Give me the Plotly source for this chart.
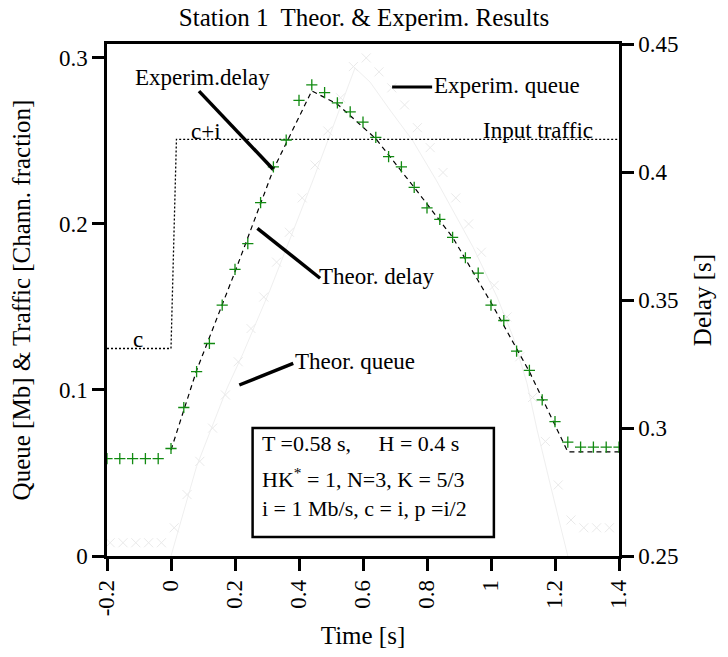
import plotly.graph_objects as go

# ---- data -----------------------------------------------------------------
# experimental delay samples (right axis, seconds)
exp_delay_t = [-0.20, -0.16, -0.12, -0.08, -0.04, 0.00, 0.04, 0.08, 0.12, 0.16,
               0.20, 0.24, 0.28, 0.32, 0.36, 0.40, 0.44, 0.48, 0.52, 0.56,
               0.60, 0.64, 0.68, 0.72, 0.76, 0.80, 0.84, 0.88, 0.92, 0.96,
               1.00, 1.04, 1.08, 1.12, 1.16, 1.20, 1.24, 1.28, 1.32, 1.36, 1.40]
exp_delay = [0.288, 0.288, 0.288, 0.288, 0.288, 0.292, 0.308, 0.322, 0.333, 0.348,
             0.362, 0.372, 0.388, 0.402, 0.4125, 0.428, 0.434, 0.431, 0.427, 0.4235,
             0.4195, 0.4135, 0.406, 0.402, 0.394, 0.386, 0.3815, 0.3745, 0.3665, 0.3605,
             0.348, 0.342, 0.330, 0.3225, 0.311, 0.3025, 0.2945, 0.2925, 0.2925, 0.2925, 0.2925]

# theoretical delay (right axis, seconds)
theo_delay_t = [0.00, 0.08, 0.20, 0.32, 0.44, 0.52, 0.64, 0.76, 0.88, 1.00, 1.12, 1.24, 1.40]
theo_delay = [0.2914, 0.3225, 0.361, 0.401, 0.4317, 0.4265, 0.413, 0.394, 0.3745, 0.349,
              0.322, 0.2907, 0.2907]

# experimental queue samples (left axis, Mb)
exp_queue_t = [-0.19, -0.15, -0.11, -0.07, -0.03, 0.01, 0.05, 0.09, 0.13, 0.17,
               0.21, 0.25, 0.29, 0.33, 0.37, 0.41, 0.45, 0.49, 0.53, 0.57,
               0.61, 0.65, 0.69, 0.73, 0.77, 0.81, 0.85, 0.89, 0.93, 0.97,
               1.01, 1.05, 1.09, 1.13, 1.17, 1.21, 1.25, 1.29, 1.33, 1.37]
exp_queue = [0.008, 0.008, 0.008, 0.008, 0.008, 0.017, 0.037, 0.057, 0.077, 0.097,
             0.117, 0.137, 0.156, 0.177, 0.195, 0.2157, 0.2355, 0.256, 0.276, 0.2948,
             0.300, 0.2916, 0.282, 0.2717, 0.258, 0.246, 0.231, 0.2157, 0.200, 0.183,
             0.163, 0.144, 0.120, 0.0955, 0.069, 0.0428, 0.0217, 0.017, 0.017, 0.017]

# theoretical queue (left axis, Mb)
theo_queue_t = [0.00, 0.08, 0.175, 0.225, 0.309, 0.381, 0.444, 0.575, 0.622, 0.684,
                0.756, 0.83, 0.944, 1.019, 1.069, 1.1125, 1.144, 1.184, 1.24]
theo_queue = [0.0, 0.054, 0.101, 0.122, 0.160, 0.196, 0.2265, 0.294, 0.2855, 0.2687,
              0.250, 0.226, 0.186, 0.156, 0.132, 0.104, 0.076, 0.044, 0.0]

# input traffic (left axis, channel fraction): c, then c+i
traffic_t = [-0.20, 0.00, 0.017, 1.40]
traffic = [0.125, 0.125, 0.251, 0.251]

x_ticks = [-0.2, 0.0, 0.2, 0.4, 0.6, 0.8, 1.0, 1.2, 1.4]
x_ticktext = ["-0.2", "0", "0.2", "0.4", "0.6", "0.8", "1", "1.2", "1.4"]
yl_ticks = [0.0, 0.1, 0.2, 0.3]
yl_ticktext = ["0", "0.1", "0.2", "0.3"]
yr_ticks = [0.25, 0.30, 0.35, 0.40, 0.45]
yr_ticktext = ["0.25", "0.3", "0.35", "0.4", "0.45"]

# ---- style ----------------------------------------------------------------
FONT = "Liberation Serif, Times New Roman, serif"
FS_TICK = 23
FS_LABEL = 23
FS_BOX = 22
FS_TITLE = 25
AXW = 2.5

fig = go.Figure()

fig.add_trace(go.Scatter(x=theo_queue_t, y=theo_queue, mode="lines",
                         line=dict(color="#efefef", width=1), name="Theor. queue"))
fig.add_trace(go.Scatter(x=exp_queue_t, y=exp_queue, mode="markers",
                         marker=dict(symbol="x-thin", size=9,
                                     line=dict(color="#eaeaea", width=1)),
                         name="Experim. queue"))
fig.add_trace(go.Scatter(x=traffic_t, y=traffic, mode="lines",
                         line=dict(color="black", width=1.3, dash="2px,2px"),
                         name="Input traffic"))
fig.add_trace(go.Scatter(x=theo_delay_t, y=theo_delay, mode="lines", yaxis="y2",
                         line=dict(color="black", width=1.2, dash="5px,4px"),
                         name="Theor. delay"))
fig.add_trace(go.Scatter(x=exp_delay_t, y=exp_delay, mode="markers", yaxis="y2",
                         marker=dict(symbol="cross-thin", size=8,
                                     line=dict(color="#118a11", width=1.3)),
                         name="Experim.delay"))

axis_common = dict(showgrid=False, zeroline=False, showline=True, linecolor="black",
                   linewidth=AXW, ticks="outside", ticklen=12, tickwidth=AXW,
                   tickcolor="black",
                   tickfont=dict(family=FONT, size=FS_TICK, color="black"))

fig.update_layout(
    width=728, height=657,
    margin=dict(l=107, r=109, t=44, b=101),
    paper_bgcolor="white", plot_bgcolor="white",
    showlegend=False,
    font=dict(family=FONT, size=FS_LABEL, color="black"),
    title=dict(text="Station 1  Theor. & Experim. Results", x=0.5, xanchor="center",
               y=1 - 17 / 657, yanchor="middle",
               font=dict(family=FONT, size=FS_TITLE)),
    xaxis=dict(range=[-0.2, 1.4], tickvals=x_ticks, ticktext=x_ticktext, tickangle=-90,
               mirror=True, title=dict(text="Time [s]", standoff=12,
                                       font=dict(family=FONT, size=FS_TITLE)),
               **axis_common),
    yaxis=dict(range=[0, 0.3084], tickvals=yl_ticks, ticktext=yl_ticktext,
               title=dict(text="Queue [Mb] & Traffic [Chann. fraction]", standoff=22,
                          font=dict(family=FONT, size=FS_TITLE)),
               **axis_common),
    yaxis2=dict(range=[0.25, 0.45], tickvals=yr_ticks, ticktext=yr_ticktext,
                overlaying="y", side="right", anchor="x",
                title=dict(text="Delay [s]", standoff=16,
                           font=dict(family=FONT, size=FS_TITLE)),
                **axis_common),
)

# ---- labels with pointer lines ---------------------------------------------
def label(text, x, y, xanchor="center", size=FS_LABEL):
    fig.add_annotation(text=text, x=x, y=y, xref="x", yref="y", showarrow=False,
                       xanchor=xanchor, yanchor="middle",
                       font=dict(family=FONT, size=size, color="black"))

def pointer(x0, y0, x1, y1, width=3.5):
    fig.add_shape(type="line", xref="x", yref="y", x0=x0, y0=y0, x1=x1, y1=y1,
                  line=dict(color="black", width=width))

label("Experim.delay", 0.097, 0.2885)
pointer(0.0875, 0.280, 0.319, 0.233)

label("Experim. queue", 0.8155, 0.2837, xanchor="left")
pointer(0.691, 0.2825, 0.816, 0.2825, width=3)

label("Input traffic", 0.97, 0.2562, xanchor="left")
label("c+i", 0.108, 0.2556)
label("c", -0.103, 0.1307)

label("Theor. delay", 0.456, 0.1683, xanchor="left")
pointer(0.27, 0.1974, 0.466, 0.1673)

label("Theor. queue", 0.381, 0.117, xanchor="left")
pointer(0.2135, 0.103, 0.382, 0.116)

# parameter box
fig.add_shape(type="rect", xref="x", yref="y", x0=0.255, y0=0.0115, x1=1.009, y1=0.0771,
              line=dict(color="black", width=2.5), fillcolor="white", layer="above")
label("T =0.58 s,     H = 0.4 s", 0.278, 0.068, xanchor="left", size=FS_BOX)
label("HK<sup>*</sup> = 1, N=3, K = 5/3", 0.278, 0.047, xanchor="left", size=FS_BOX)
label("i = 1 Mb/s, c = i, p =i/2", 0.278, 0.0289, xanchor="left", size=FS_BOX)

fig.write_html("out.html")
